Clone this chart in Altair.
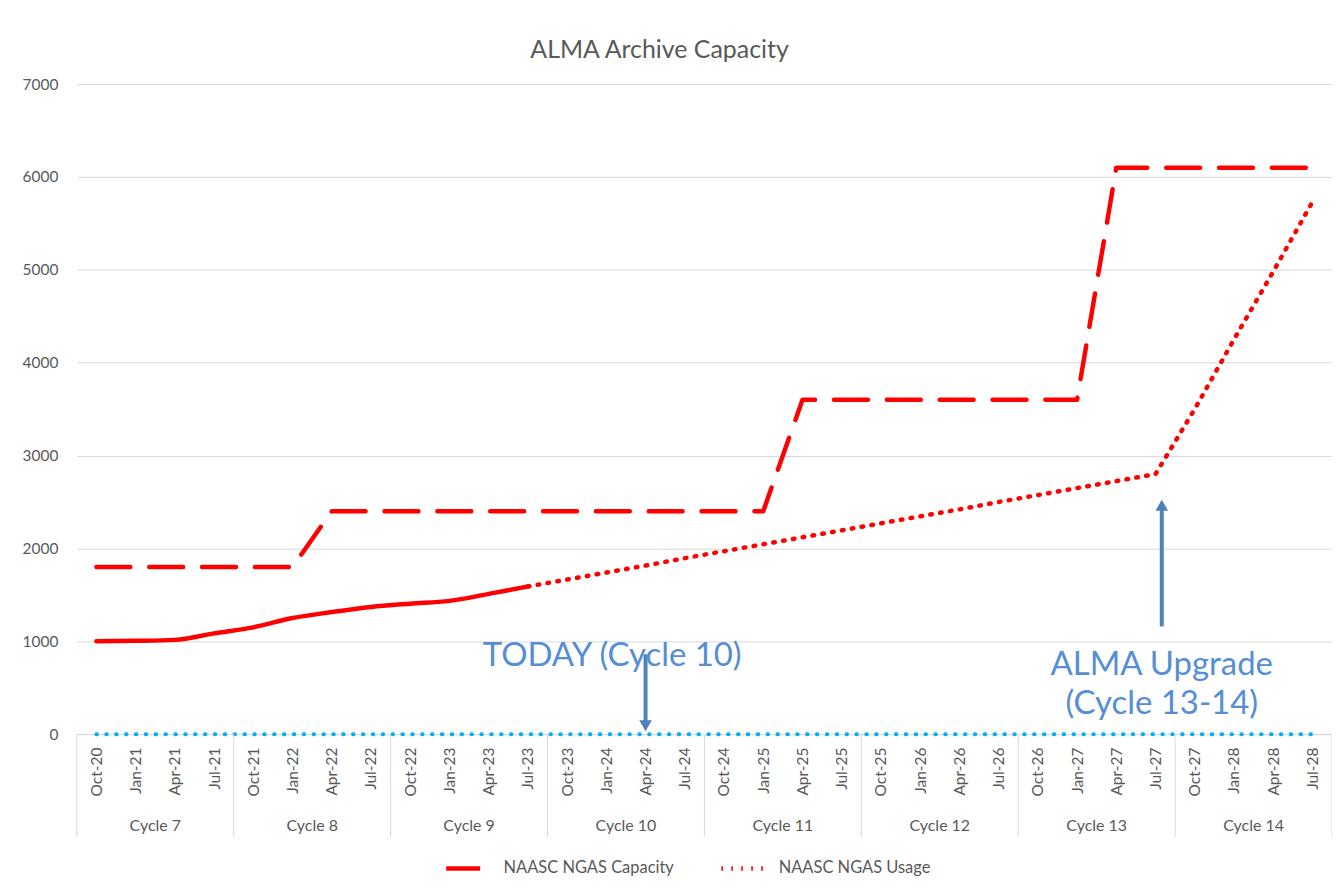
import altair as alt
import pandas as pd

# ---------------- data ----------------
months = ["Oct-20", "Jan-21", "Apr-21", "Jul-21",
          "Oct-21", "Jan-22", "Apr-22", "Jul-22",
          "Oct-22", "Jan-23", "Apr-23", "Jul-23",
          "Oct-23", "Jan-24", "Apr-24", "Jul-24",
          "Oct-24", "Jan-25", "Apr-25", "Jul-25",
          "Oct-25", "Jan-26", "Apr-26", "Jul-26",
          "Oct-26", "Jan-27", "Apr-27", "Jul-27",
          "Oct-27", "Jan-28", "Apr-28", "Jul-28"]
cycles = ["Cycle 7", "Cycle 8", "Cycle 9", "Cycle 10",
          "Cycle 11", "Cycle 12", "Cycle 13", "Cycle 14"]
months_per_cycle = 4

capacity = [1800, 1800, 1800, 1800,
            1800, 1800, 2400, 2400,
            2400, 2400, 2400, 2400,
            2400, 2400, 2400, 2400,
            2400, 2400, 3600, 3600,
            3600, 3600, 3600, 3600,
            3600, 3600, 6100, 6100,
            6100, 6100, 6100, 6100]

# measured usage (solid), Oct-20 .. Jul-23
usage_actual = [1000, 1005, 1015, 1085, 1150, 1250, 1315, 1370,
                1405, 1435, 1510, 1590]
# projected usage (dotted), Jul-23 .. Jul-28
usage_forecast = [1590, 1665, 1740, 1815, 1895, 1970, 2045, 2120,
                  2195, 2270, 2345, 2420, 2500, 2575, 2650, 2725,
                  2800, 3500, 4250, 4980, 5730]
forecast_start = "Jul-23"

baseline = [0, 0, 0, 0, 0, 0, 0, 0, 0, 0, 0, 0, 0, 0, 0, 0,
            0, 0, 0, 0, 0, 0, 0, 0, 0, 0, 0, 0, 0, 0, 0, 0]

series_names = ["NAASC NGAS Capacity", "NAASC NGAS Usage"]
y_ticks = [0, 1000, 2000, 3000, 4000, 5000, 6000, 7000]

# annotations (x in category-index units, y in data units)
today_label = "TODAY (Cycle 10)"
today_month = "Apr-24"
today_text_x = 13.65
today_text_y = 730
today_shaft = (860, 140)
today_head = 90

upgrade_lines = ["ALMA Upgrade", "(Cycle 13-14)"]
upgrade_x = 27.66
upgrade_text_y = [634, 215]
upgrade_shaft = (1160, 2415)
upgrade_head = 2465

# ---------------- style ----------------
W, H = 1259, 652
FONT = "Lato"
GREY = "#595959"
GRID = "#d9d9d9"
RED = "#FF0000"
CYAN = "#00B0F0"
ARROW = "#4F81BD"
ANNOT = "#558ED5"
FS = 15.5

# ---------------- tables ----------------
fi = months.index(forecast_start)
lines_df = pd.DataFrame({
    "month": months + months[fi:],
    "value": capacity + usage_forecast,
    "series": [series_names[0]] * len(capacity) + [series_names[1]] * len(usage_forecast),
})
actual_df = pd.DataFrame({"month": months[:len(usage_actual)], "value": usage_actual})
zero_df = pd.DataFrame({"month": months, "value": baseline})

div_df = pd.DataFrame({"pos": [i * months_per_cycle for i in range(len(cycles) + 1)]})
cyc_df = pd.DataFrame({"pos": [i * months_per_cycle + months_per_cycle / 2 for i in range(len(cycles))],
                       "label": cycles})

today_x = months.index(today_month) + 0.5
shaft_df = pd.DataFrame({"pos": [today_x, upgrade_x],
                         "value": [today_shaft[0], upgrade_shaft[0]],
                         "value2": [today_shaft[1], upgrade_shaft[1]]})
head_df = pd.DataFrame({"pos": [today_x, upgrade_x],
                        "value": [today_head, upgrade_head],
                        "shape": ["triangle-down", "triangle-up"]})
text_df = pd.DataFrame({"pos": [today_text_x, upgrade_x, upgrade_x],
                        "value": [today_text_y] + upgrade_text_y,
                        "label": [today_label] + upgrade_lines})

# ---------------- encodings ----------------
x_month = alt.X("month:N", sort=months,
                scale=alt.Scale(type="point", domain=months, padding=0.5),
                axis=alt.Axis(title=None, labelAngle=270, labelFont=FONT, labelFontSize=FS,
                              labelColor=GREY, labelPadding=13, ticks=False, tickSize=0,
                              domainColor=GRID, domainWidth=1, grid=False,
                              labelAlign="right", labelBaseline="middle"))
y_axis = alt.Axis(title=None, values=y_ticks, format="d", grid=True, gridColor=GRID,
                  gridWidth=1, domain=False, ticks=False, labelPadding=19,
                  labelFont=FONT, labelFontSize=FS, labelColor=GREY)
y_scale = alt.Scale(domain=[0, 7000], nice=False)
y_val = alt.Y("value:Q", scale=y_scale, axis=y_axis)

legend = alt.Legend(title=None, orient="none", legendX=368, legendY=759,
                    direction="horizontal", symbolType="stroke", symbolSize=2500,
                    symbolStrokeWidth=4.5, labelFont=FONT, labelFontSize=16.5,
                    labelColor=GREY, columnPadding=38, labelOffset=5, labelLimit=400)

x_pos = alt.X("pos:Q", scale=alt.Scale(domain=[0, 32], nice=False, zero=False), axis=None)

# ---------------- layers ----------------
lines = alt.Chart(lines_df).mark_line(strokeWidth=4.5, strokeCap="round", strokeJoin="round").encode(
    x=x_month, y=y_val,
    color=alt.Color("series:N", scale=alt.Scale(domain=series_names, range=[RED, RED]), legend=legend),
    strokeDash=alt.StrokeDash("series:N",
                              scale=alt.Scale(domain=series_names, range=[[34, 19], [1.6, 8.4]]),
                              legend=legend),
)
actual = alt.Chart(actual_df).mark_line(strokeWidth=4.5, strokeCap="round", strokeJoin="round",
                                        color=RED, interpolate="monotone").encode(
    x=x_month, y=y_val)
zero = alt.Chart(zero_df).mark_line(strokeWidth=4, strokeCap="round", color=CYAN,
                                    strokeDash=[0.5, 9.4]).encode(x=x_month, y=y_val)

main = alt.layer(lines, actual, zero)

dividers = alt.Chart(div_df).mark_rule(color=GRID, strokeWidth=1).encode(
    x=x_pos, y=alt.value(H), y2=alt.value(H + 103))
cyc_text = alt.Chart(cyc_df).mark_text(font=FONT, fontSize=16, color=GREY, baseline="middle").encode(
    x=x_pos, y=alt.value(H + 92), text="label:N")
shafts = alt.Chart(shaft_df).mark_rule(color=ARROW, strokeWidth=4).encode(
    x=x_pos, y=y_val, y2="value2:Q")
heads = alt.Chart(head_df).mark_point(filled=True, color=ARROW, size=160, opacity=1).encode(
    x=x_pos, y=y_val,
    shape=alt.Shape("shape:N", scale=None))
texts = alt.Chart(text_df).mark_text(font=FONT, fontSize=33, color=ANNOT, baseline="alphabetic").encode(
    x=x_pos, y=y_val, text="label:N")

deco = alt.layer(dividers, cyc_text, shafts, heads, texts)

chart = alt.layer(main, deco).resolve_scale(x="independent").properties(
    width=W, height=H,
    background="white",
    title=alt.TitleParams("ALMA Archive Capacity", font=FONT, fontSize=25, fontWeight="normal",
                          color=GREY, anchor="middle", dx=-45, offset=14),
    autosize=alt.AutoSizeParams(type="none"),
    padding={"left": 69, "top": 75, "right": 0, "bottom": 151},
).configure_view(stroke=None)

chart.save("out.html", embed_options={"renderer": "svg", "actions": False})
